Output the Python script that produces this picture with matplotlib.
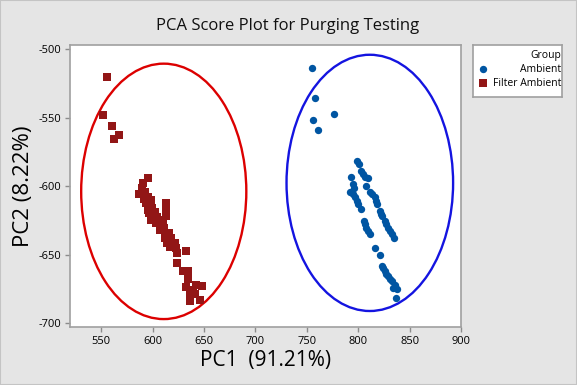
import numpy as np
import matplotlib.pyplot as plt
from matplotlib.patches import Ellipse, Rectangle

plt.rcParams['font.family'] = ['Open Sans', 'DejaVu Sans']
plt.rcParams['axes.unicode_minus'] = False

# Filter Ambient scores (PC1, PC2)
filter_pc1 = [555.8, 551.9, 560.6, 567.4, 562.6,
              595.6, 590.8, 586.9, 592.4, 590.1, 595.6, 591.4, 598.9, 594.0, 597.9,
              599.8, 595.6, 596.6, 602.1, 600.5, 604.4, 598.9, 607.0, 603.1, 610.2,
              608.6, 612.8, 612.8, 612.8, 607.0, 610.9, 613.5, 616.0, 611.8, 618.3,
              614.1, 621.6, 616.7, 623.2, 623.8, 632.9, 623.8, 629.7, 634.5, 634.5,
              632.9, 642.6, 648.5, 639.4, 636.1, 641.0, 636.1, 645.9]
filter_pc2 = [-520.5, -548.2, -556.3, -562.9, -565.8,
              -594.3, -597.5, -605.7, -604.0, -601.6, -607.7, -609.6, -610.1, -612.6, -613.8,
              -616.2, -617.4, -619.9, -618.6, -621.1, -622.3, -624.7, -624.7, -627.2, -627.2,
              -629.6, -612.6, -616.2, -621.6, -632.0, -630.8, -634.5, -634.5, -638.1, -638.1,
              -641.3, -641.3, -644.2, -645.4, -649.1, -647.4, -656.4, -661.8, -661.8, -668.1,
              -673.9, -672.2, -673.0, -675.9, -678.3, -678.8, -683.9, -683.2]

# Ambient scores (PC1, PC2)
ambient_pc1 = [755.2, 758.1, 776.6, 755.8, 761.0,
               799.3, 800.5, 803.2, 805.0, 806.4, 809.6, 792.8, 807.4, 795.0, 796.0,
               792.5, 794.5, 796.7, 798.5, 799.9, 802.5, 805.4, 806.5, 807.4, 810.0,
               811.9, 816.1, 821.0,
               811.3, 813.5, 816.1, 817.5, 818.4, 821.0, 822.0, 823.6, 825.9, 827.5,
               829.1, 831.0, 832.4, 834.6,
               822.7, 824.5, 825.9, 827.5, 829.1, 831.0, 832.4, 834.0, 836.0, 837.8, 836.6]
ambient_pc2 = [-513.4, -535.4, -547.1, -551.5, -558.8,
               -581.8, -584.0, -588.6, -591.0, -593.5, -594.0, -593.0, -599.6, -598.4, -601.0,
               -604.5, -606.0, -608.2, -611.0, -613.0, -616.7, -625.3, -628.0, -630.2, -633.0,
               -635.0, -645.3, -650.2,
               -604.5, -606.0, -608.2, -611.0, -613.0, -617.9, -620.0, -621.6, -625.3, -628.0,
               -630.2, -632.5, -634.6, -638.0,
               -658.2, -660.0, -661.9, -664.0, -665.6, -667.5, -669.2, -674.1, -672.5, -675.3, -681.9]

# confidence ellipses: center, full width, full height (data units)
ell_groups = ['Filter Ambient', 'Ambient']
ell_cx = [610.9, 811.3]
ell_cy = [-603.8, -597.6]
ell_w = [160.6, 162.0]
ell_h = [186.6, 187.2]

xticks = [550, 600, 650, 700, 750, 800, 850, 900]
yticks = [-500, -550, -600, -650, -700]

bg = '#e5e5e5'
red_pt = '#921616'
red_ell = '#dc0000'
blue_pt = '#0055a2'
blue_ell = '#1414e0'

fig = plt.figure(figsize=(5.77, 3.85), dpi=100, facecolor=bg)
fig.patches.append(Rectangle((0, 0), 1, 1, transform=fig.transFigure,
                             fill=False, edgecolor='#c4c4c4', linewidth=1.5))
ax = fig.add_axes([0.1218, 0.1506, 0.6772, 0.7317])

ax.scatter(filter_pc1, filter_pc2, marker='s', s=32, color=red_pt, linewidths=0, zorder=3)
ax.scatter(ambient_pc1, ambient_pc2, marker='o', s=28, color=blue_pt, linewidths=0, zorder=3)

for i, c in enumerate([red_ell, blue_ell]):
    ax.add_patch(Ellipse((ell_cx[i], ell_cy[i]), ell_w[i], ell_h[i],
                         fill=False, edgecolor=c, linewidth=1.7, zorder=2))

ax.set_xlim(520, 900)
ax.set_ylim(-702.9, -497.1)
ax.set_xticks(xticks)
ax.set_yticks(yticks)
ax.tick_params(labelsize=8, length=3.5, color='#8c8c8c', width=1, pad=3)
for s in ax.spines.values():
    s.set_color('#a0a0a0')
    s.set_linewidth(1.2)

ax.set_xlabel('PC1  (91.21%)', fontsize=15, labelpad=2)
ax.set_ylabel('PC2 (8.22%)', fontsize=16, labelpad=3)
fig.text(0.499, 0.932, 'PCA Score Plot for Purging Testing', ha='center', va='center',
         fontsize=12, color='#111111')

# legend box
lg = fig.add_axes([0.8203, 0.7473, 0.1542, 0.1358])
lg.set_xlim(0, 1)
lg.set_ylim(0, 1)
lg.set_xticks([])
lg.set_yticks([])
for s in lg.spines.values():
    s.set_color('#a0a0a0')
    s.set_linewidth(1.2)
lg.text(0.985, 0.795, 'Group', ha='right', va='center', fontsize=7.5)
lg.text(0.985, 0.535, 'Ambient', ha='right', va='center', fontsize=7.5)
lg.text(0.985, 0.268, 'Filter Ambient', ha='right', va='center', fontsize=7.5)
lg.scatter([0.106], [0.535], marker='o', s=28, color=blue_pt, linewidths=0)
lg.scatter([0.106], [0.268], marker='s', s=32, color=red_pt, linewidths=0)

fig.savefig('out.png', dpi=100, facecolor=bg)
